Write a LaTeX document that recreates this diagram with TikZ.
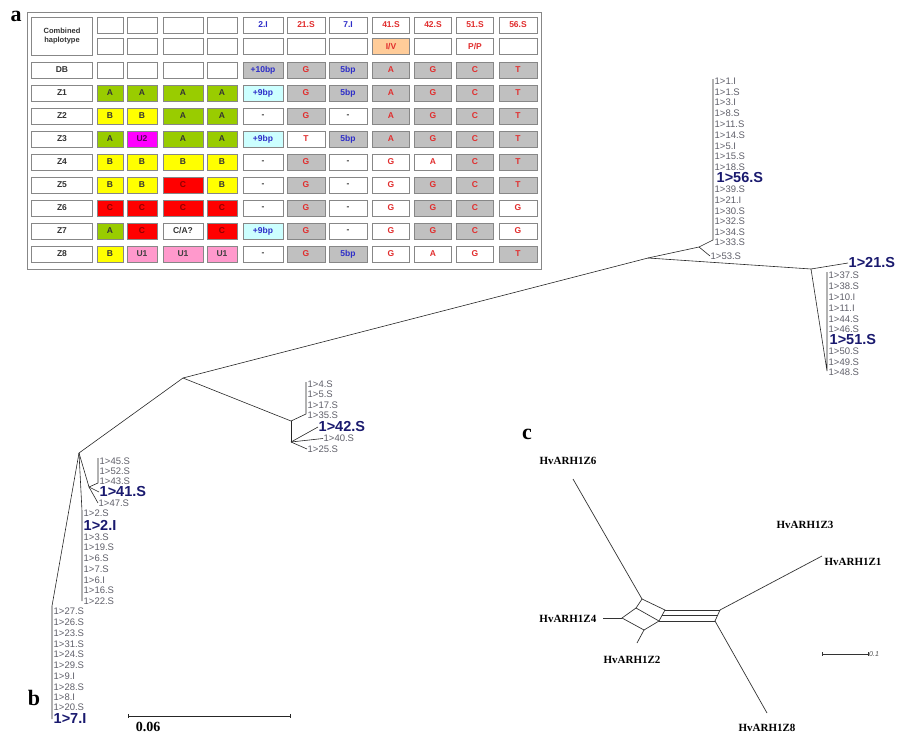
\documentclass[tikz,border=0pt]{standalone}
\usepackage{fontspec}
\setmainfont{Liberation Serif}
\setsansfont{Liberation Sans}

\definecolor{hgreen}{RGB}{153,204,0}
\definecolor{hyellow}{RGB}{255,255,0}
\definecolor{hred}{RGB}{255,0,0}
\definecolor{hpink}{RGB}{255,153,204}
\definecolor{hmag}{RGB}{255,0,255}
\definecolor{hcyan}{RGB}{204,255,255}
\definecolor{hgray}{RGB}{192,192,192}
\definecolor{horange}{RGB}{255,204,153}
\definecolor{snpred}{RGB}{225,45,45}
\definecolor{indelblue}{RGB}{45,45,200}
\definecolor{leafgray}{RGB}{95,95,105}
\definecolor{navy}{RGB}{25,25,110}
\definecolor{rimgray}{RGB}{135,135,135}

\tikzset{
  cell/.style={draw=rimgray, line width=0.9pt, minimum height=16pt, inner sep=0pt,
    fill=white, font=\sffamily\bfseries\fontsize{8.5}{9}\selectfont},
  hw/.style={fill=white, text=black!80},
  hwr/.style={fill=white, text=snpred},
  hwb/.style={fill=white, text=indelblue},
  hg/.style={fill=hgray, text=snpred},
  hgb/.style={fill=hgray, text=indelblue},
  hc/.style={fill=hcyan, text=indelblue},
  ho/.style={fill=horange, text=snpred},
  hA/.style={fill=hgreen, text=black!80},
  hB/.style={fill=hyellow, text=black!80},
  hC/.style={fill=hred, text=red!55!black},
  hU1/.style={fill=hpink, text=black!75},
  hU2/.style={fill=hmag, text=violet!70!black},
  br/.style={draw=black!85, line width=0.6pt},
  net/.style={draw=black!80, line width=0.7pt},
  leaf/.style={anchor=west, inner sep=0.5pt, text=leafgray, font=\sffamily\fontsize{9.5}{10}\selectfont},
  bigleaf/.style={anchor=west, inner sep=0.5pt, text=navy, font=\sffamily\bfseries\fontsize{14.5}{15}\selectfont},
  taxon/.style={inner sep=0.5pt, font=\bfseries\fontsize{11}{11}\selectfont},
  panel/.style={inner sep=0pt, font=\bfseries\fontsize{22}{22}\selectfont}
}

% one haplotype cell: row name, y, column, style, text
\newcommand{\hapcell}[5]{%
  \pgfmathsetmacro\cellx{{62,110,142,183,222,263,306,348,391,433,475,518}[#3]}%
  \pgfmathsetmacro\cellw{{61,26,30,40,30,40,38,38,37,37,37,38}[#3]}%
  \node[cell,#4,minimum width=\cellw pt] (#1-#3) at (\cellx,#2) {#5};%
}

\begin{document}
\begin{tikzpicture}[x=1pt,y=-1pt]
  \useasboundingbox (0,0) rectangle (900,736);

  % ---------- a: haplotype table ----------
  \node[panel] (pa) at (16,16) {a};
  \draw[draw=rimgray, line width=1pt, fill=white] (27,12) rectangle (541,269);
  \node[cell, hw, minimum width=61pt, minimum height=38pt, align=center,
    font=\sffamily\bfseries\fontsize{7.5}{9.5}\selectfont] (comb) at (62,36) {Combined\\haplotype};

  % header rows
  \foreach \c in {1,...,4} {\hapcell{hd}{25}{\c}{hw}{}}
  \foreach \c/\s/\t in {5/hwb/2.I,6/hwr/21.S,7/hwb/7.I,8/hwr/41.S,9/hwr/42.S,10/hwr/51.S,11/hwr/56.S}
    {\hapcell{hd}{25}{\c}{\s}{\t}}
  \foreach \c in {1,...,7,9,11} {\hapcell{hs}{46.5}{\c}{hw}{}}
  \hapcell{hs}{46.5}{8}{ho}{I/V}
  \hapcell{hs}{46.5}{10}{hwr}{P/P}

  % row labels
  \hapcell{db}{70}{0}{hw}{DB}
  \foreach \k in {1,...,8} {\hapcell{z\k}{70+23*\k}{0}{hw}{Z\k}}

  % DB
  \foreach \c in {1,...,4} {\hapcell{db}{70}{\c}{hw}{}}
  \foreach \c/\s/\t in {5/hgb/+10bp,6/hg/G,7/hgb/5bp,8/hg/A,9/hg/G,10/hg/C,11/hg/T}
    {\hapcell{db}{70}{\c}{\s}{\t}}
  % Z1
  \foreach \c/\s/\t in {1/hA/A,2/hA/A,3/hA/A,4/hA/A,5/hc/+9bp,6/hg/G,7/hgb/5bp,8/hg/A,9/hg/G,10/hg/C,11/hg/T}
    {\hapcell{z1}{93}{\c}{\s}{\t}}
  % Z2
  \foreach \c/\s/\t in {1/hB/B,2/hB/B,3/hA/A,4/hA/A,5/hw/-,6/hg/G,7/hw/-,8/hg/A,9/hg/G,10/hg/C,11/hg/T}
    {\hapcell{z2}{116}{\c}{\s}{\t}}
  % Z3
  \foreach \c/\s/\t in {1/hA/A,2/hU2/U2,3/hA/A,4/hA/A,5/hc/+9bp,6/hwr/T,7/hgb/5bp,8/hg/A,9/hg/G,10/hg/C,11/hg/T}
    {\hapcell{z3}{139}{\c}{\s}{\t}}
  % Z4
  \foreach \c/\s/\t in {1/hB/B,2/hB/B,3/hB/B,4/hB/B,5/hw/-,6/hg/G,7/hw/-,8/hwr/G,9/hwr/A,10/hg/C,11/hg/T}
    {\hapcell{z4}{162}{\c}{\s}{\t}}
  % Z5
  \foreach \c/\s/\t in {1/hB/B,2/hB/B,3/hC/C,4/hB/B,5/hw/-,6/hg/G,7/hw/-,8/hwr/G,9/hg/G,10/hg/C,11/hg/T}
    {\hapcell{z5}{185}{\c}{\s}{\t}}
  % Z6
  \foreach \c/\s/\t in {1/hC/C,2/hC/C,3/hC/C,4/hC/C,5/hw/-,6/hg/G,7/hw/-,8/hwr/G,9/hg/G,10/hg/C,11/hwr/G}
    {\hapcell{z6}{208}{\c}{\s}{\t}}
  % Z7
  \foreach \c/\s/\t in {1/hA/A,2/hC/C,3/hw/{C/A?},4/hC/C,5/hc/+9bp,6/hg/G,7/hw/-,8/hwr/G,9/hg/G,10/hg/C,11/hwr/G}
    {\hapcell{z7}{231}{\c}{\s}{\t}}
  % Z8
  \foreach \c/\s/\t in {1/hB/B,2/hU1/U1,3/hU1/U1,4/hU1/U1,5/hw/-,6/hg/G,7/hgb/5bp,8/hwr/G,9/hwr/A,10/hwr/G,11/hg/T}
    {\hapcell{z8}{254}{\c}{\s}{\t}}

  % ---------- b: tree ----------
  \node[panel] (pb) at (34,698) {b};
  \coordinate (nA) at (183,378);
  \coordinate (nG) at (648,258);
  \coordinate (nB) at (291,421);
  \coordinate (nB2) at (291,442);
  \coordinate (nC) at (79,453);
  \coordinate (nD) at (89,487);
  \coordinate (nH) at (811,269);
  \coordinate (nI) at (699,247);
  \draw[br] (nA) -- (nG);
  \draw[br] (nA) -- (nB);
  \draw[br] (nA) -- (nC);

  % upper right clade
  \coordinate (barR1t) at (713,79);
  \coordinate (barR1b) at (713,240);
  \draw[br] (nG) -- (nI);
  \draw[br] (nI) -- (barR1b) -- (barR1t);
  \foreach \y/\t [count=\k] in {81/1.I,92/1.S,102/3.I,113/8.S,124/11.S,135/14.S,146/5.I,156/15.S,167/18.S,
      189/39.S,200/21.I,211/30.S,221/32.S,232/34.S,242/33.S}
    \node[leaf] (ra\k) at (714,\y) {1>\t};
  \node[bigleaf] (l56) at (716,178) {1>56.S};
  \node[leaf] (l53) at (710,256) {1>53.S};
  \draw[br] (nI) -- (l53.west);

  % lower right clade
  \coordinate (barR2t) at (827,272);
  \coordinate (barR2b) at (827,371);
  \draw[br] (nG) -- (nH);
  \node[bigleaf] (l21) at (848,263) {1>21.S};
  \draw[br] (nH) -- (l21.west);
  \draw[br] (nH) -- (barR2b) -- (barR2t);
  \foreach \y/\t [count=\k] in {275/37.S,286/38.S,297/10.I,308/11.I,319/44.S,329/46.S,351/50.S,362/49.S,372/48.S}
    \node[leaf] (rb\k) at (828,\y) {1>\t};
  \node[bigleaf] (l51) at (829,340) {1>51.S};

  % middle clade
  \coordinate (barMt) at (306,382);
  \coordinate (barMb) at (306,414);
  \draw[br] (nB) -- (nB2);
  \draw[br] (nB) -- (barMb) -- (barMt);
  \foreach \y/\t [count=\k] in {384/4.S,394/5.S,405/17.S,415/35.S}
    \node[leaf] (m\k) at (307,\y) {1>\t};
  \node[bigleaf] (l42) at (318,427) {1>42.S};
  \node[leaf] (l40) at (323,438.5) {1>40.S};
  \node[leaf] (l25) at (307,449) {1>25.S};
  \draw[br] (nB2) -- (l42.west);
  \draw[br] (nB2) -- (l40.west);
  \draw[br] (nB2) -- (l25.west);

  % left clade
  \coordinate (barL1t) at (98,458);
  \coordinate (barL1b) at (98,483);
  \draw[br] (nC) -- (nD);
  \draw[br] (nD) -- (barL1b) -- (barL1t);
  \foreach \y/\t [count=\k] in {461/45.S,471/52.S,481/43.S}
    \node[leaf] (la\k) at (99,\y) {1>\t};
  \node[bigleaf] (l41) at (99,492) {1>41.S};
  \node[leaf] (l47) at (98,503) {1>47.S};
  \draw[br] (nD) -- (l41.west);
  \draw[br] (nD) -- (l47.west);

  \coordinate (barL2t) at (82,511);
  \coordinate (barL2b) at (82,601);
  \draw[br] (nC) -- (barL2t) -- (barL2b);
  \foreach \y/\t [count=\k] in {513/2.S,537/3.S,547/19.S,558/6.S,569/7.S,580/6.I,590/16.S,601/22.S}
    \node[leaf] (lb\k) at (83,\y) {1>\t};
  \node[bigleaf] (l2I) at (83,525) {1>2.I};

  \coordinate (barL3t) at (52,606);
  \coordinate (barL3b) at (52,719);
  \draw[br] (nC) -- (barL3t) -- (barL3b);
  \foreach \y/\t [count=\k] in {611/27.S,622/26.S,633/23.S,644/31.S,654/24.S,665/29.S,676/9.I,687/28.S,697/8.I,707/20.S}
    \node[leaf] (lc\k) at (53,\y) {1>\t};
  \node[bigleaf] (l7I) at (53,719) {1>7.I};

  % scale bar
  \coordinate (sbL) at (128,716);
  \coordinate (sbR) at (290,716);
  \draw[br] (sbL) -- (sbR);
  \draw[br] (sbL) ++(0,-2) -- ++(0,4);
  \draw[br] (sbR) ++(0,-2) -- ++(0,4);
  \node[inner sep=0pt, font=\bfseries\fontsize{14}{14}\selectfont] (sbT) at (148,727) {0.06};

  % ---------- c: network ----------
  \node[panel] (pc) at (527,434) {c};
  \coordinate (q1) at (642,599);
  \coordinate (q2) at (665,610);
  \coordinate (q2m) at (662,615);
  \coordinate (q3) at (659,621);
  \coordinate (q4) at (636,608);
  \coordinate (q5) at (644,630);
  \coordinate (q6) at (622,618);
  \coordinate (r1) at (720,610);
  \coordinate (r1m) at (718,615);
  \coordinate (r2) at (715,621);
  \draw[net] (q1) -- (q2) -- (q3) -- (q4) -- cycle;
  \draw[net] (q4) -- (q6) -- (q5) -- (q3);
  \draw[net] (q2) -- (r1);
  \draw[net] (q2m) -- (r1m);
  \draw[net] (q3) -- (r2);
  \draw[net] (r1) -- (r2);

  \node[taxon] (z6) at (568,461) {HvARH1Z6};
  \node[taxon] (z3) at (805,525) {HvARH1Z3};
  \node[taxon] (z1) at (853,562) {HvARH1Z1};
  \node[taxon, anchor=east] (z4) at (597,619) {HvARH1Z4};
  \node[taxon] (z2) at (632,660) {HvARH1Z2};
  \node[taxon] (z8) at (767,728) {HvARH1Z8};
  \coordinate (e6) at (573,479);
  \coordinate (e1) at (822,556);
  \coordinate (e4) at (603,618);
  \coordinate (e2) at (637,643);
  \coordinate (e8) at (767,713);
  \draw[net] (e6) -- (q1);
  \draw[net] (e4) -- (q6);
  \draw[net] (e2) -- (q5);
  \draw[net] (r1) -- (e1);
  \draw[net] (r2) -- (e8);

  % scale bar
  \coordinate (scL) at (822,654);
  \coordinate (scR) at (868,654);
  \draw[net, line width=0.5pt] (scL) -- (scR);
  \draw[net, line width=0.5pt] (scL) ++(0,-2) -- ++(0,4);
  \draw[net, line width=0.5pt] (scR) ++(0,-2) -- ++(0,4);
  \node[anchor=west, inner sep=1pt, text=black!70, font=\sffamily\itshape\fontsize{7}{7}\selectfont] (scT) at (scR) {0.1};
\end{tikzpicture}
\end{document}
